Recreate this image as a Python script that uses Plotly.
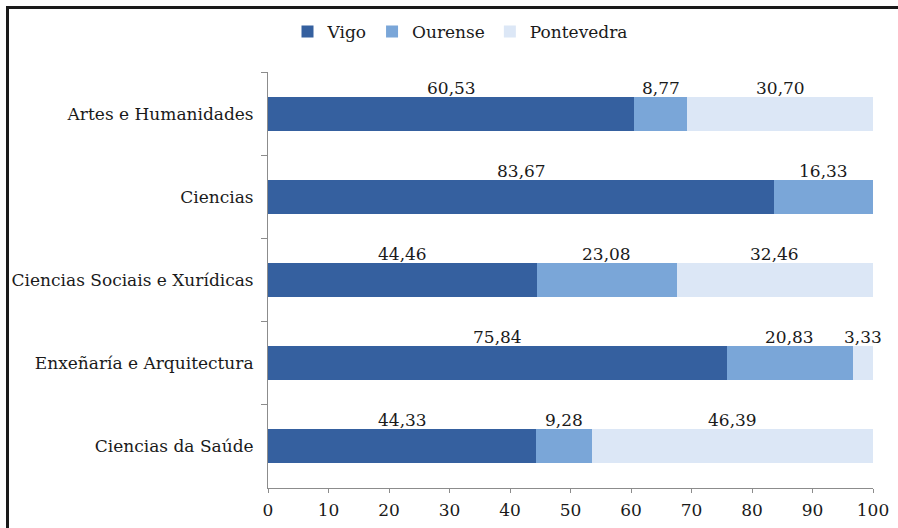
import plotly.graph_objects as go

categories = ["Artes e Humanidades", "Ciencias", "Ciencias Sociais e Xurídicas",
              "Enxeñaría e Arquitectura", "Ciencias da Saúde"]
series_names = ["Vigo", "Ourense", "Pontevedra"]
vigo = [60.53, 83.67, 44.46, 75.84, 44.33]
ourense = [8.77, 16.33, 23.08, 20.83, 9.28]
pontevedra = [30.70, 0.0, 32.46, 3.33, 46.39]
x_ticks = [0, 10, 20, 30, 40, 50, 60, 70, 80, 90, 100]

colors = ["#35609f", "#7aa6d8", "#dce7f6"]
FONT = "DejaVu Serif"
FS = 17

fig = go.Figure()
series = [vigo, ourense, pontevedra]
for name, vals, col in zip(series_names, series, colors):
    fig.add_trace(go.Bar(
        y=categories, x=vals, name=name, orientation="h",
        marker=dict(color=col, line=dict(width=0)),
    ))

annotations = []
for i, cat in enumerate(categories):
    base = 0.0
    for vals in series:
        v = vals[i]
        if v > 0:
            annotations.append(dict(
                x=base + v / 2, y=cat, xref="x", yref="y",
                text=f"{v:.2f}".replace(".", ","), showarrow=False,
                yshift=26, font=dict(family=FONT, size=FS, color="#1a1a1a"),
            ))
        base += v

W, H = 898, 528
L, R, T, B = 268, 25, 72, 40
pw, ph = W - L - R, H - T - B
def px(xp):
    return (xp - L) / pw
def py(yp):
    return (H - B - yp) / ph

shapes = [
    dict(type="line", xref="paper", yref="paper", x0=px(7.5), x1=px(7.5),
         y0=py(528), y1=py(6), line=dict(color="#1a1a1a", width=3)),
    dict(type="line", xref="paper", yref="paper", x0=px(6), x1=px(898),
         y0=py(7.5), y1=py(7.5), line=dict(color="#1a1a1a", width=3)),
]

fig.update_layout(
    width=W, height=H, autosize=False, barmode="stack", bargap=0.59,
    margin=dict(l=L, r=R, t=T, b=B, pad=0, autoexpand=False),
    paper_bgcolor="white", plot_bgcolor="white",
    font=dict(family=FONT, size=FS, color="#1a1a1a"),
    showlegend=True,
    legend=dict(orientation="h", x=px(460), y=py(32), xanchor="center",
                yanchor="middle", font=dict(family=FONT, size=FS),
                traceorder="normal", itemwidth=30),
    annotations=annotations, shapes=shapes,
    xaxis=dict(range=[0, 100], tickvals=x_ticks, showgrid=False, zeroline=False,
               showline=True, linecolor="#8c8c8c", linewidth=1,
               ticks="outside", ticklen=4, tickcolor="#8c8c8c",
               ticklabelstandoff=3, automargin=False,
               tickfont=dict(family=FONT, size=FS)),
    yaxis=dict(categoryorder="array", categoryarray=categories,
               range=[4.5, -0.5], showgrid=False, zeroline=False,
               showline=True, linecolor="#8c8c8c", linewidth=1,
               ticks="outside", ticklen=6, tickcolor="#8c8c8c",
               tickson="boundaries", ticklabelstandoff=10, automargin=False,
               tickfont=dict(family=FONT, size=FS)),
)

fig.write_html("out.html", config={"displayModeBar": False},
               post_script="document.body.style.margin='0';"
                           "document.documentElement.style.overflow='hidden';")
